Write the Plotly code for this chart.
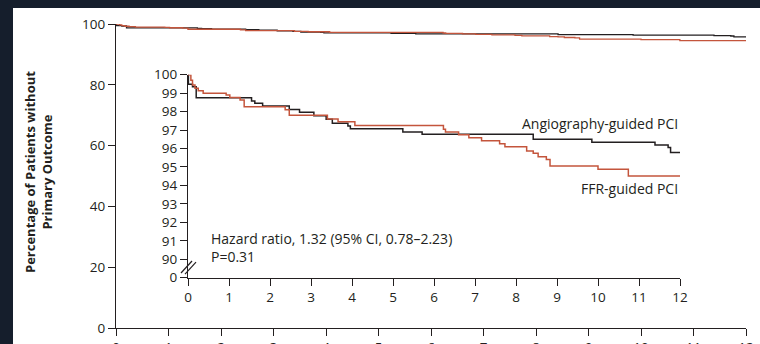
import plotly.graph_objects as go

# ---- Data (Kaplan-Meier steps: value holds from this month until the next) ----
angio_months = [0, 0.01, 0.11, 0.20, 1.55, 1.63, 1.82, 2.47, 2.72, 3.07, 3.37, 3.52, 3.90, 3.96,
                5.24, 5.71, 8.42, 9.85, 11.39, 11.71, 11.77, 12.0]
angio_pct = [100, 99.48, 99.35, 98.75, 98.57, 98.45, 98.30, 98.12, 97.96, 97.78, 97.58, 97.37, 97.22, 97.07,
             96.90, 96.77, 96.50, 96.34, 96.19, 96.06, 95.79, 95.79]

ffr_months = [0, 0.07, 0.11, 0.17, 0.25, 0.37, 0.93, 1.02, 1.27, 1.37, 2.37, 2.47, 3.40, 3.66, 4.07,
              6.23, 6.28, 6.60, 6.85, 7.16, 7.60, 7.73, 8.26, 8.42, 8.54, 8.74, 8.83, 10.00, 10.74, 12.0]
ffr_pct = [100, 99.70, 99.44, 99.26, 99.13, 99.00, 98.90, 98.77, 98.63, 98.27, 98.10, 97.80, 97.60, 97.45, 97.25,
           97.04, 96.90, 96.75, 96.59, 96.42, 96.26, 96.10, 95.86, 95.74, 95.56, 95.41, 95.05, 94.87, 94.51, 94.51]

month_ticks = list(range(13))
main_y_ticks = [0, 20, 40, 60, 80, 100]
inset_y_ticks = [89, 90, 91, 92, 93, 94, 95, 96, 97, 98, 99, 100]
inset_y_labels = ["0", "90", "91", "92", "93", "94", "95", "96", "97", "98", "99", "100"]

series_names = ["Angiography-guided PCI", "FFR-guided PCI"]
stats_text = ["Hazard ratio, 1.32 (95% CI, 0.78\u20132.23)", "P=0.31"]
y_title = ["Percentage of Patients without", "Primary Outcome"]

INK = "#231f20"
RED = "#c4553c"
DARK = "#151e2c"
FONT = "Open Sans"

fig = go.Figure()
for xa, ya, w in [("x", "y", 1.3), ("x2", "y2", 1.5)]:
    fig.add_trace(go.Scatter(x=angio_months, y=angio_pct, mode="lines", xaxis=xa, yaxis=ya,
                             line=dict(color=INK, width=w, shape="hv"), name=series_names[0]))
    fig.add_trace(go.Scatter(x=ffr_months, y=ffr_pct, mode="lines", xaxis=xa, yaxis=ya,
                             line=dict(color=RED, width=w, shape="hv"), name=series_names[1]))

axis_common = dict(showline=True, linecolor=INK, linewidth=1.3, ticks="outside", ticklen=7,
                   tickwidth=1.3, tickcolor=INK, showgrid=False, zeroline=False, automargin=False,
                   tickfont=dict(family=FONT, size=13.5, color=INK))

# pixel -> paper helpers (plot area: x 116..746, y 24..328)
def px(x):
    return (x - 116) / 630.0

def py(y):
    return (328 - y) / 304.0

fig.update_layout(
    template="none",
    width=760, height=344,
    margin=dict(l=116, r=14, t=24, b=16, autoexpand=False),
    paper_bgcolor=DARK, plot_bgcolor="rgba(0,0,0,0)",
    showlegend=False,
    xaxis=dict(domain=[0, 1], range=[0, 12], tickvals=month_ticks, anchor="y", **axis_common),
    yaxis=dict(domain=[0, 1], range=[0, 100], tickvals=main_y_ticks, anchor="x", **axis_common),
    xaxis2=dict(domain=[px(188), px(680)], range=[0, 12], tickvals=month_ticks, anchor="y2", **axis_common),
    yaxis2=dict(domain=[py(277.7), py(74.7)], range=[89, 100], tickvals=inset_y_ticks,
                ticktext=inset_y_labels, anchor="x2", **axis_common),
)

# white panel inside the dark frame
fig.add_shape(type="rect", xref="paper", yref="paper", x0=px(13), x1=px(770), y0=py(354), y1=py(8),
              fillcolor="white", line=dict(width=0), layer="below")

# axis break marks on inset y axis
for dx in (0, 4):
    fig.add_shape(type="line", xref="paper", yref="paper",
                  x0=px(181 + dx), y0=py(273 + dx * 0.3), x1=px(192 + dx), y1=py(261 + dx * 0.3),
                  line=dict(color=INK, width=1.2))

ann_font = dict(family=FONT, size=14, color=INK)
fig.add_annotation(text=series_names[0], xref="x2", yref="y2", x=12, y=97.38,
                   xanchor="right", yanchor="middle", showarrow=False, font=ann_font)
fig.add_annotation(text=series_names[1], xref="x2", yref="y2", x=12, y=93.86,
                   xanchor="right", yanchor="middle", showarrow=False, font=ann_font)
fig.add_annotation(text=stats_text[0] + "<br>" + stats_text[1], xref="paper", yref="paper",
                   x=px(209), y=py(247.5), xanchor="left", yanchor="middle", align="left",
                   showarrow=False, font=ann_font)
fig.add_annotation(text="<b>" + y_title[0] + "</b><br><b>" + y_title[1] + "</b>",
                   xref="paper", yref="paper", x=px(38), y=py(172), xanchor="center", yanchor="middle",
                   textangle=-90, showarrow=False, font=dict(family=FONT, size=13, color=INK))

fig.write_html(
    "out.html",
    config={"displayModeBar": False},
    post_script="document.documentElement.style.overflow='hidden';"
                "document.body.style.margin='0';document.body.style.overflow='hidden';",
)
